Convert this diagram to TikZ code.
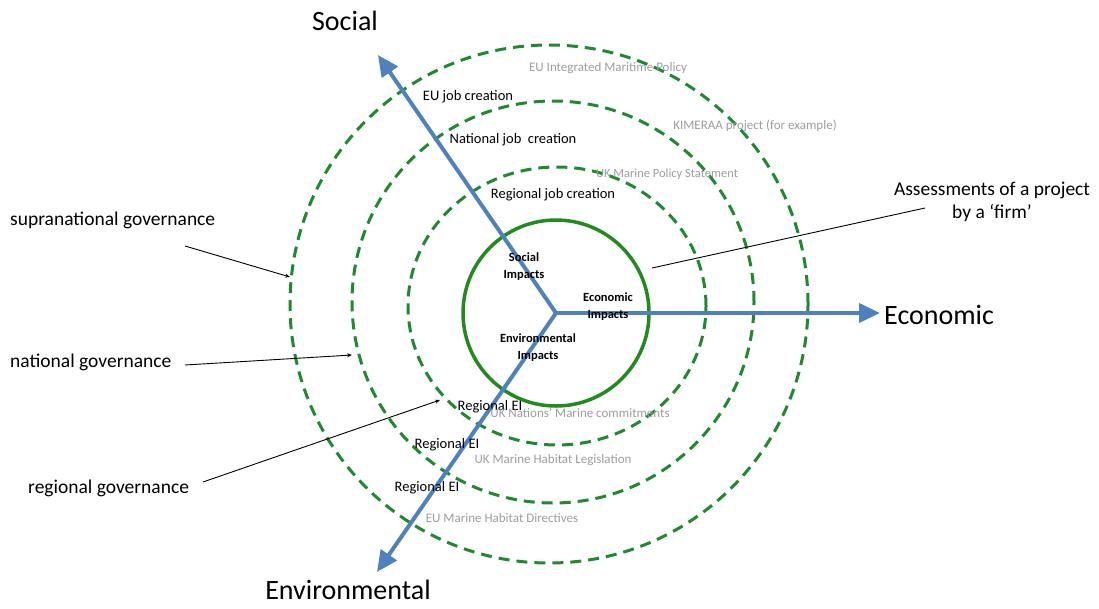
\documentclass[tikz,border=0pt]{standalone}
\usepackage{fontspec}
\setmainfont{Carlito}
\usepackage{xcolor}
\usepackage{tikz}
\usetikzlibrary{arrows.meta}
\definecolor{axisblue}{HTML}{4F81BD}
\definecolor{ringgreen}{HTML}{1E8A2C}
\definecolor{coregreen}{HTML}{238A1E}
\definecolor{muted}{HTML}{9C9C9C}
\tikzset{
  axis/.style={draw=axisblue, line width=4pt, -{Triangle[length=21pt, width=19pt]}},
  ring/.style={draw=ringgreen, line width=3pt, dash pattern=on 11pt off 7pt},
  core/.style={draw=coregreen, line width=3.5pt},
  leader/.style={draw=black, line width=0.9pt},
  big/.style={font=\fontsize{28}{32}\selectfont},
  gov/.style={font=\fontsize{19.5}{23}\selectfont},
  job/.style={font=\fontsize{14.5}{17}\selectfont},
  policy/.style={text=muted, font=\fontsize{13}{16}\selectfont},
  impact/.style={font=\bfseries\fontsize{12.5}{17}\selectfont, align=center}
}

\begin{document}
\begin{tikzpicture}[x=1pt, y=-1pt]
  \useasboundingbox (0,0) rectangle (1099,608);
  \coordinate (O) at (556,313);
  % governance rings
  \draw[ring] (557,306) circle[x radius=149pt, y radius=139pt];
  \draw[ring] (553,302) circle[radius=201pt];
  \draw[ring] (549,304) circle[radius=259pt];
  \draw[core] (O) circle[radius=93pt];
  % the three axes
  \coordinate (socTip) at (378,55);
  \coordinate (ecoTip) at (880,313);
  \coordinate (envTip) at (377,572);
  \draw[axis] (O) -- (socTip);
  \draw[axis] (O) -- (ecoTip);
  \draw[axis] (O) -- (envTip);
  \node[big] (social) at (345,21) {Social};
  \node[big, anchor=west, inner sep=0pt] (economic) at (884,315) {Economic};
  \node[big] (environmental) at (348,590) {Environmental};
  % impacts inside the firm circle
  \node[impact] (socImp) at (524,267) {Social\\Impacts};
  \node[impact] (ecoImp) at (608,307) {Economic\\Impacts};
  \node[impact] (envImp) at (538,348) {Environmental\\Impacts};
  % job creation along the social axis
  \node[job] (euJob) at (468,97) {EU job creation};
  \node[job] (natJob) at (513,140) {National job\ \ creation};
  \node[job] (regJob) at (553,195) {Regional job creation};
  % EI along the environmental axis
  \node[job] (regEIa) at (490,407) {Regional EI};
  \node[job] (regEIb) at (447,445) {Regional EI};
  \node[job] (regEIc) at (427,488) {Regional EI};
  % policy labels
  \node[policy] (imp) at (608,68) {EU Integrated Maritime Policy};
  \node[policy] (kimeraa) at (755,126) {KIMERAA project (for example)};
  \node[policy, font=\fontsize{12.5}{15}\selectfont] (mps) at (667,174) {UK Marine Policy Statement};
  \node[policy] (nations) at (580,413) {UK Nations’ Marine commitments};
  \node[policy] (habLeg) at (553,460) {UK Marine Habitat Legislation};
  \node[policy] (habDir) at (502,518) {EU Marine Habitat Directives};
  % governance levels
  \node[gov, anchor=west, inner sep=0pt] (supra) at (10,220) {supranational governance};
  \node[gov, anchor=west, inner sep=0pt] (national) at (10,362) {national governance};
  \node[gov, anchor=west, inner sep=0pt] (regional) at (28,488) {regional governance};
  \node[gov, align=center] (firm) at (992,202) {Assessments of a project\\by a ‘firm’};
  \coordinate (supraFrom) at (185,246);
  \coordinate (supraTo) at (290,277);
  \coordinate (natFrom) at (185,365);
  \coordinate (natTo) at (352,355);
  \coordinate (regFrom) at (203,482);
  \coordinate (regTo) at (440,400);
  \coordinate (firmFrom) at (925,208);
  \coordinate (firmTo) at (652,268);
  \draw[leader, -{Stealth[length=5pt, width=4pt]}] (supraFrom) -- (supraTo);
  \draw[leader, -{Stealth[length=5pt, width=4pt]}] (natFrom) -- (natTo);
  \draw[leader, -{Stealth[length=5pt, width=4pt]}] (regFrom) -- (regTo);
  \draw[leader] (firmFrom) -- (firmTo);
\end{tikzpicture}
\end{document}
